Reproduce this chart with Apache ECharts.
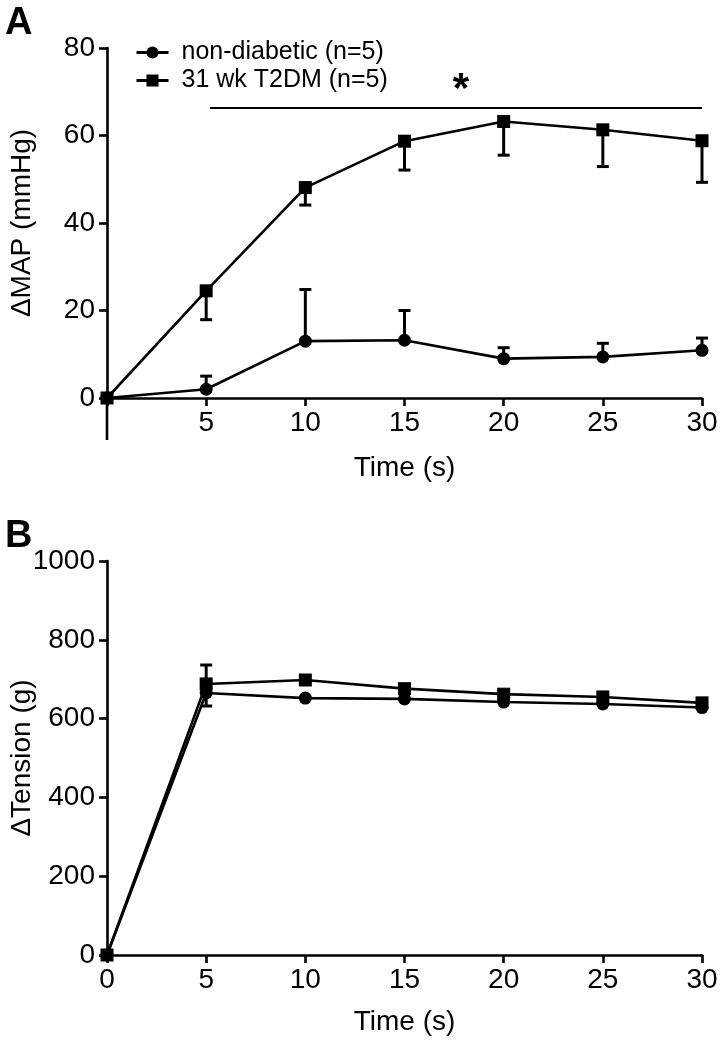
<!DOCTYPE html>
<html><head><meta charset="utf-8">
<script src="https://cdn.jsdelivr.net/npm/echarts@6/dist/echarts.min.js"></script>
<style>html,body{margin:0;padding:0;background:#fff}#c{width:720px;height:1046px}</style>
</head><body><div id="c"></div>
<script>
// ---- data ----
const timeS = [0, 5, 10, 15, 20, 25, 30];
const seriesNames = ['non-diabetic (n=5)', '31 wk T2DM (n=5)'];
// Panel A: change in MAP (mmHg)
const mapNonDiabetic       = [0, 2.0, 13.0, 13.2, 9.0, 9.4, 10.9];
const mapNonDiabeticErrEnd = [null, 5.0, 24.8, 20.0, 11.5, 12.5, 13.7];
const mapT2DM              = [0, 24.5, 48.1, 58.7, 63.2, 61.3, 58.8];
const mapT2DMErrEnd        = [null, 17.9, 44.1, 52.1, 55.5, 52.9, 49.3];
// Panel B: change in tension (g)
const tensionNonDiabetic       = [0, 665, 652, 650, 642, 637, 628];
const tensionNonDiabeticErrEnd = [null, 632, null, null, null, null, null];
const tensionT2DM              = [0, 688, 698, 676, 662, 655, 640];
const tensionT2DMErrEnd        = [null, 736, null, null, null, null, null];
// significance annotation (panel A)
const sigSpan = [5.2, 30];
const sigLevel = 66.3;
const sigStarAt = [17.85, 70.4];
const sigLabel = '*';

const FONT = 'Liberation Sans, Arial, sans-serif';
const chart = echarts.init(document.getElementById('c'), null, {renderer: 'canvas'});

function lineSeries(name, idx, vals, symbol) {
  return {
    type: 'line', name, xAxisIndex: idx, yAxisIndex: idx,
    data: timeS.map((t, i) => [t, vals[i]]),
    symbol, symbolSize: 13, showSymbol: true,
    lineStyle: {color: '#000', width: 2.6},
    itemStyle: {color: '#000', borderWidth: 0},
    z: 5, animation: false
  };
}
function errSeries(idx, vals, ends) {
  return {
    type: 'custom', xAxisIndex: idx, yAxisIndex: idx, silent: true, z: 3, animation: false,
    data: timeS.map((t, i) => [t, vals[i], ends[i]]).filter(d => d[2] != null),
    renderItem(params, api) {
      const p0 = api.coord([api.value(0), api.value(1)]);
      const p1 = api.coord([api.value(0), api.value(2)]);
      const hw = 6;
      return {type: 'group', children: [
        {type: 'line', shape: {x1: p0[0], y1: p0[1], x2: p1[0], y2: p1[1]}, style: {stroke: '#000', lineWidth: 3}},
        {type: 'line', shape: {x1: p1[0] - hw, y1: p1[1], x2: p1[0] + hw, y2: p1[1]}, style: {stroke: '#000', lineWidth: 3}}
      ]};
    }
  };
}
const axisLine = {show: true, onZero: true, lineStyle: {color: '#000', width: 2.6}};
const axisTick = {show: true, inside: false, length: 8, lineStyle: {color: '#000', width: 2.6}};
const lbl = {color: '#000', fontFamily: FONT, fontSize: 28};
function xAx(idx, hideZero, gap) {
  return {
    type: 'value', gridIndex: idx, min: 0, max: 30, interval: 5,
    name: 'Time (s)', nameLocation: 'middle', nameGap: gap, nameMoveOverlap: false,
    nameTextStyle: {color: '#000', fontFamily: FONT, fontSize: 28},
    axisLine, axisTick, splitLine: {show: false},
    axisLabel: Object.assign({margin: 11, formatter: v => (hideZero && v === 0) ? '' : String(v)}, lbl)
  };
}
function yAx(idx, max, interval, name) {
  return {
    type: 'value', gridIndex: idx, min: 0, max, interval,
    name, nameLocation: 'middle', nameGap: 71, nameMoveOverlap: false,
    nameTextStyle: {color: '#000', fontFamily: FONT, fontSize: 28},
    axisLine, axisTick, splitLine: {show: false},
    axisLabel: Object.assign({margin: 12, formatter: v => String(v)}, lbl)
  };
}

const option = {
  backgroundColor: '#fff',
  animation: false,
  title: [
    {text: 'A', left: 0, top: 0, textStyle: {color: '#000', fontFamily: FONT, fontSize: 38, fontWeight: 'bold'}},
    {text: 'B', left: 0, top: 513, textStyle: {color: '#000', fontFamily: FONT, fontSize: 38, fontWeight: 'bold'}}
  ],
  legend: {
    orient: 'vertical', left: 130, top: 35, itemGap: 3,
    itemWidth: 32, itemHeight: 15,
    data: seriesNames,
    lineStyle: {color: '#000', width: 3},
    textStyle: {color: '#000', fontFamily: FONT, fontSize: 25, lineHeight: 25, padding: [0, 0, 0, 8]}
  },
  grid: [
    {left: 107, top: 48, width: 595, height: 350, containLabel: false, outerBoundsMode: 'none'},
    {left: 107, top: 561, width: 595, height: 394, containLabel: false, outerBoundsMode: 'none'}
  ],
  xAxis: [xAx(0, true, 56), xAx(1, false, 53)],
  yAxis: [yAx(0, 80, 20, 'ΔMAP (mmHg)'), yAx(1, 1000, 200, 'ΔTension (g)')],
  series: [
    errSeries(0, mapNonDiabetic, mapNonDiabeticErrEnd),
    errSeries(0, mapT2DM, mapT2DMErrEnd),
    errSeries(1, tensionNonDiabetic, tensionNonDiabeticErrEnd),
    errSeries(1, tensionT2DM, tensionT2DMErrEnd),
    Object.assign(lineSeries(seriesNames[0], 0, mapNonDiabetic, 'circle'), {
      markLine: {
        silent: true, symbol: ['none', 'none'], animation: false,
        lineStyle: {color: '#000', width: 2.2, type: 'solid'}, label: {show: false},
        data: [[{coord: [sigSpan[0], sigLevel]}, {coord: [sigSpan[1], sigLevel]}]]
      },
      markPoint: {
        silent: true, symbol: 'circle', symbolSize: 1, itemStyle: {color: 'rgba(0,0,0,0)'}, animation: false,
        label: {show: true, formatter: sigLabel, color: '#000', fontFamily: FONT, fontSize: 42, fontWeight: 'bold', position: 'inside'},
        data: [{coord: sigStarAt}]
      }
    }),
    lineSeries(seriesNames[1], 0, mapT2DM, 'rect'),
    lineSeries(seriesNames[0], 1, tensionNonDiabetic, 'circle'),
    lineSeries(seriesNames[1], 1, tensionT2DM, 'rect')
  ]
};
chart.setOption(option);
// extend panel A's y-axis line below the origin, as in the original figure
const o = chart.convertToPixel({gridIndex: 0}, [0, 0]);
chart.setOption({graphic: [{
  type: 'line', silent: true, z: 10,
  shape: {x1: o[0], y1: o[1], x2: o[0], y2: o[1] + 42},
  style: {stroke: '#000', lineWidth: 2.6}
}]});
</script></body></html>
